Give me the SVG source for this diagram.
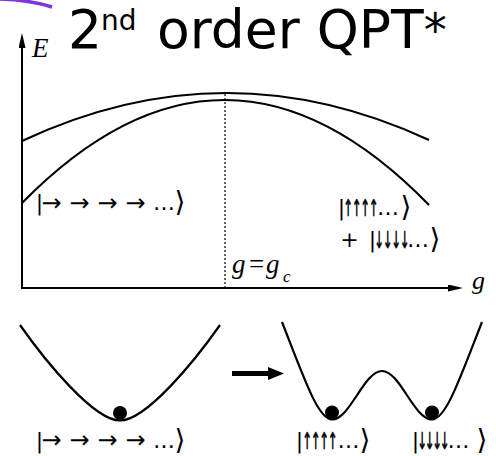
<svg xmlns="http://www.w3.org/2000/svg" width="496" height="456" viewBox="0 0 496 456">
<defs>
<style>
.ax{stroke:#000;stroke-width:2;fill:none}
.cv{stroke:#000;stroke-width:2.2;fill:none}
.k{font-family:"DejaVu Sans",sans-serif;font-size:22px;fill:#000;text-anchor:middle}
.br{font-family:"DejaVu Sans",sans-serif;font-size:28px;fill:#000;text-anchor:middle}
.ar{font-family:"DejaVu Sans",sans-serif;font-size:24px;fill:#000;text-anchor:middle}
.av{font-family:"DejaVu Sans",sans-serif;font-size:23px;fill:#000;stroke:#000;stroke-width:0.7;text-anchor:middle}
.it{font-family:"Liberation Serif",serif;font-style:italic;fill:#000}
.ball{fill:#000}
</style>
<marker id="ah" markerUnits="userSpaceOnUse" markerWidth="16" markerHeight="8" refX="0" refY="3.5" orient="auto">
<path d="M0,0 L15,3.5 L0,7 z" fill="#000"/>
</marker>
</defs>
<rect width="496" height="456" fill="#fff"/>
<g id="title">
<path d="M0,-1 Q30,0 52,7" stroke="#7a36d8" stroke-width="3.5" fill="none"/>
<text font-family="DejaVu Sans,sans-serif" font-size="53.5" fill="#000"><tspan x="68" y="48">2</tspan><tspan x="101" y="30" font-size="28">nd</tspan><tspan x="157" y="48">order QPT</tspan><tspan font-size="46" y="46">*</tspan></text>
</g>
<g id="connectors">
<line class="ax" x1="22" y1="289" x2="22" y2="48" marker-end="url(#ah)"/>
<line class="ax" x1="21" y1="288" x2="448" y2="288" marker-end="url(#ah)"/>
<line x1="225" y1="94" x2="225" y2="287" stroke="#000" stroke-width="1.2" stroke-dasharray="2,2"/>
<path class="cv" d="M22,141 Q225.5,45.5 429,140"/>
<path class="cv" d="M22,203 Q225.5,-4 429,205"/>
<line x1="232" y1="373.5" x2="270" y2="373.5" stroke="#000" stroke-width="5"/>
<path d="M268,367 L284,373.5 L268,380 z" fill="#000"/>
</g>
<g id="axis-labels">
<text class="it" x="32" y="57" font-size="27">E</text>
<text class="it" x="472" y="289" font-size="26">g</text>
<text class="it" font-size="27" y="273"><tspan x="232">g</tspan><tspan x="249" font-style="normal">=</tspan><tspan x="266">g</tspan><tspan x="283" y="282" font-size="17">c</tspan></text>
</g>
<g id="ket-paramagnet">
<text class="k" x="39.5" y="210">|</text>
<text class="ar" x="51.5 79.5 107.5 135.5" y="211">→→→→</text>
<text class="k" x="164" y="210">…</text>
<text class="br" x="180" y="211">⟩</text>
</g>
<g id="ket-up">
<text class="k" x="341.5" y="215">|</text>
<text class="av" transform="translate(348,216) scale(0.5,1)" x="0 17 34 51">↑↑↑↑</text>
<text class="k" x="388" y="215">…</text>
<text class="br" x="406" y="216">⟩</text>
</g>
<g id="ket-down">
<text class="k" x="349.5 372.5" y="247">+|</text>
<text class="av" transform="translate(379,248) scale(0.5,1)" x="0 17 34 51">↓↓↓↓</text>
<text class="k" x="418" y="247">…</text>
<text class="br" x="435" y="248">⟩</text>
</g>
<g id="well-single">
<path class="cv" d="M20,325 C46,362 94,420.5 120,420.5 C146,420.5 194,362 220,325"/>
<circle class="ball" cx="120" cy="413" r="7"/>
<text class="k" x="39.5" y="448">|</text>
<text class="ar" x="51.5 79.5 107.5 135.5" y="448">→→→→</text>
<text class="k" x="164" y="448">…</text>
<text class="br" x="180" y="449">⟩</text>
</g>
<g id="well-double">
<path class="cv" d="M282,322 C304,378 318,419.5 332,419.5 C350,419.5 364,371 382,371 C400,371 414,419.5 432,419.5 C446,419.5 460,378 482,322"/>
<circle class="ball" cx="332" cy="412.5" r="7"/>
<circle class="ball" cx="432" cy="412.5" r="7"/>
<text class="k" x="299.5" y="448">|</text>
<text class="av" transform="translate(307,449) scale(0.5,1)" x="0 17 34 51">↑↑↑↑</text>
<text class="k" x="348.5" y="448">…</text>
<text class="br" x="365" y="449">⟩</text>
<text class="k" x="415.5" y="448">|</text>
<text class="av" transform="translate(422,449) scale(0.5,1)" x="0 15 30 45">↓↓↓↓</text>
<text class="k" x="458.5" y="448">…</text>
<text class="br" x="482" y="449">⟩</text>
</g>
</svg>
